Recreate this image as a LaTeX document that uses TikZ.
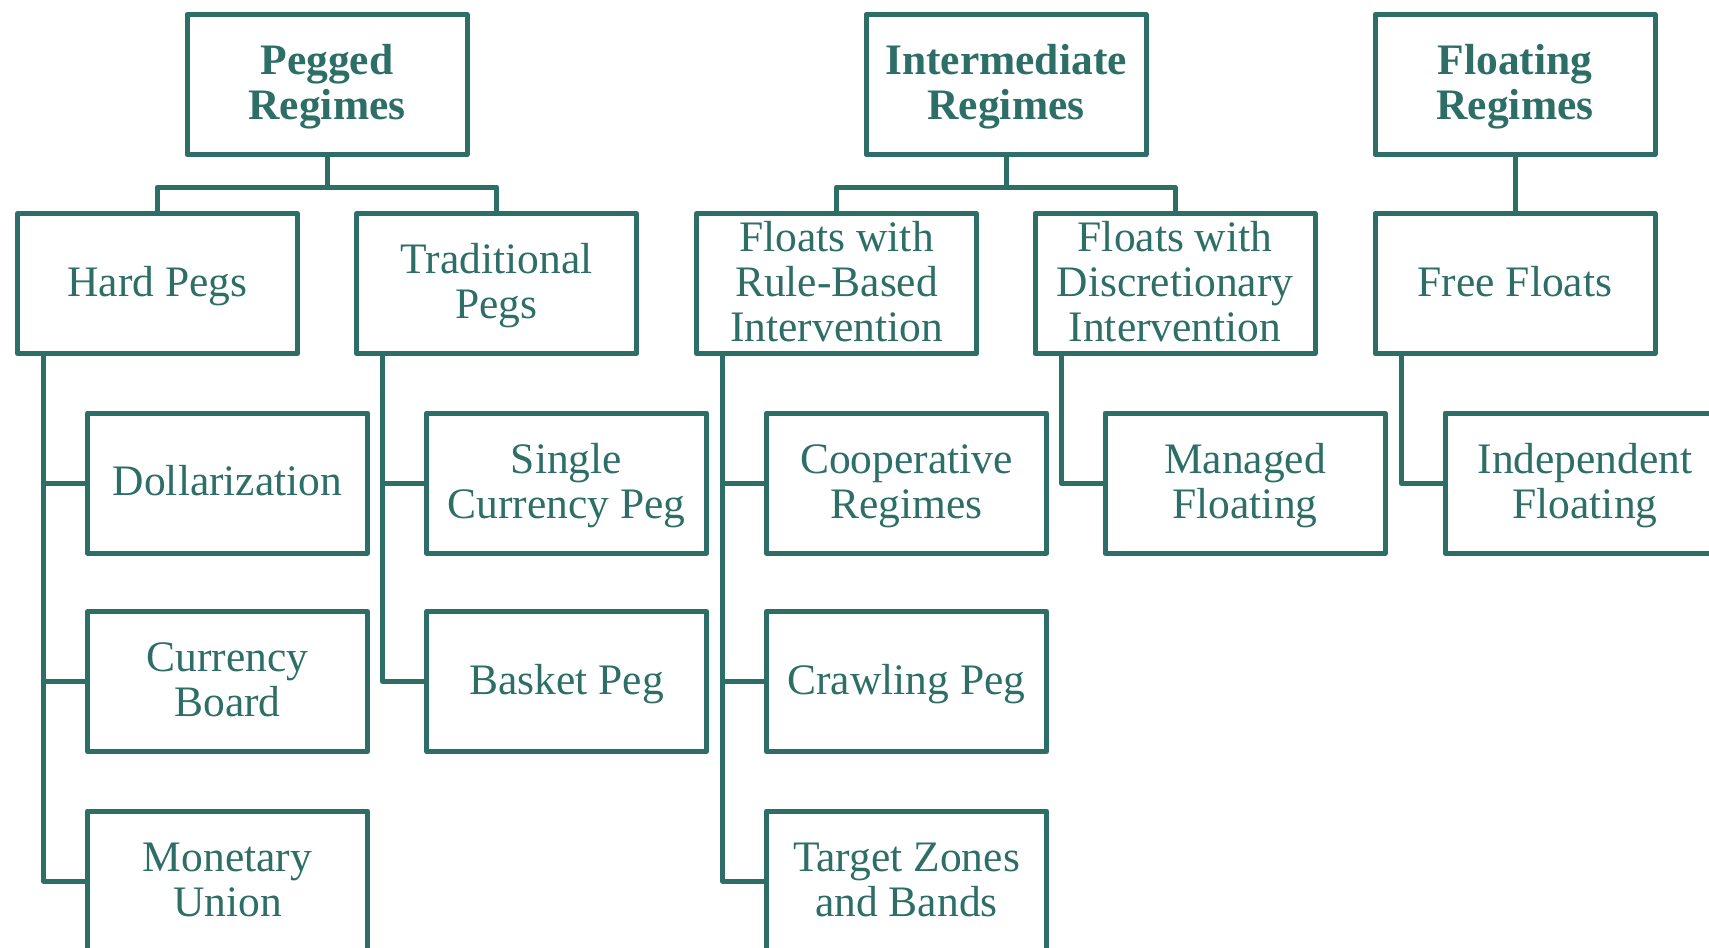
\documentclass[tikz,border=0pt]{standalone}
\usepackage{fontspec}
\setmainfont{Liberation Serif}
\definecolor{tealc}{HTML}{2D6E67}
\newcommand\tl[1]{\raisebox{0pt}[25.5pt][0pt]{#1}}
\begin{document}
\begin{tikzpicture}[x=1pt,y=-1pt,
  box/.style={draw=tealc, line width=5pt, line join=round, minimum width=280pt, minimum height=140pt, inner sep=0pt, align=center, text=tealc, font=\fontsize{43.5}{45}\selectfont},
  head/.style={box, font=\fontsize{43.5}{45}\selectfont\bfseries},
  conn/.style={draw=tealc, line width=5pt, line join=round}]
\useasboundingbox (0,0) rectangle (1709,948);
% top row
\node[head] (peg) at (327,84.5) {\tl{Pegged}\\\tl{Regimes}};
\node[head] (int) at (1006,84.5) {\tl{Intermediate}\\\tl{Regimes}};
\node[head] (flo) at (1515,84.5) {\tl{Floating}\\\tl{Regimes}};
% second row
\node[box] (hp) at (157.5,283.5) {\tl{Hard Pegs}};
\node[box] (tp) at (496.5,283.5) {\tl{Traditional}\\\tl{Pegs}};
\node[box] (fr) at (836.5,283.5) {\tl{Floats with}\\\tl{Rule-Based}\\\tl{Intervention}};
\node[box] (fd) at (1175,283.5) {\tl{Floats with}\\\tl{Discretionary}\\\tl{Intervention}};
\node[box] (ff) at (1515,283.5) {\tl{Free Floats}};
% children
\node[box] (dol) at (227.5,483) {\tl{Dollarization}};
\node[box] (cb) at (227.5,681.5) {\tl{Currency}\\\tl{Board}};
\node[box] (mu) at (227.5,881) {\tl{Monetary}\\\tl{Union}};
\node[box] (scp) at (566.5,483) {\tl{Single}\\\tl{Currency Peg}};
\node[box] (bp) at (566.5,681.5) {\tl{Basket Peg}};
\node[box] (coop) at (906.5,483) {\tl{Cooperative}\\\tl{Regimes}};
\node[box] (cp) at (906.5,681.5) {\tl{Crawling Peg}};
\node[box] (tz) at (906.5,881) {\tl{Target Zones}\\\tl{and Bands}};
\node[box] (mf) at (1245,483) {\tl{Managed}\\\tl{Floating}};
\node[box] (inf) at (1585,483) {\tl{Independent}\\\tl{Floating}};
% brackets
\draw[conn] (peg.south) -- ++(0,30) -| (hp.north);
\draw[conn] (peg.south) -- ++(0,30) -| (tp.north);
\draw[conn] (int.south) -- ++(0,30) -| (fr.north);
\draw[conn] (int.south) -- ++(0,30) -| (fd.north);
\draw[conn] (flo.south) -- (ff.north);
% trunks
\draw[conn] ([xshift=28.5pt]hp.south west) |- (dol.west);
\draw[conn] ([xshift=28.5pt]hp.south west) |- (cb.west);
\draw[conn] ([xshift=28.5pt]hp.south west) |- (mu.west);
\draw[conn] ([xshift=28.5pt]tp.south west) |- (scp.west);
\draw[conn] ([xshift=28.5pt]tp.south west) |- (bp.west);
\draw[conn] ([xshift=28.5pt]fr.south west) |- (coop.west);
\draw[conn] ([xshift=28.5pt]fr.south west) |- (cp.west);
\draw[conn] ([xshift=28.5pt]fr.south west) |- (tz.west);
\draw[conn] ([xshift=28.5pt]fd.south west) |- (mf.west);
\draw[conn] ([xshift=28.5pt]ff.south west) |- (inf.west);
\end{tikzpicture}
\end{document}
